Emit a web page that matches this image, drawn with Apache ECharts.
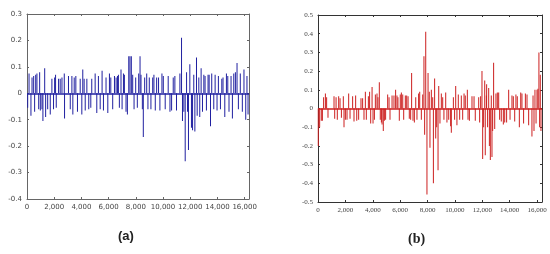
<!DOCTYPE html>
<html>
<head>
<meta charset="utf-8">
<title>stems</title>
<script src="https://cdn.jsdelivr.net/npm/echarts@6/dist/echarts.min.js"></script>
<style>
  html, body { margin: 0; padding: 0; background: #fff; }
  #chart { width: 550px; height: 254px; }
</style>
</head>
<body>
<div id="chart"></div>
<script>
// panel (a): sample position and value of each stem
var aX = [50,150,290,370,490,560,640,730,860,930,980,1100,1170,1300,1370,1520,1710,1830,1950,2030,
  2100,2150,2320,2440,2570,2740,2760,3050,3180,3300,3370,3470,3590,3710,3910,4030,4100,4200,4280,4400,
  4540,4690,4760,5010,5130,5250,5380,5520,5620,5810,5940,6060,6160,6300,6430,6550,6650,6720,6790,6910,
  6990,7090,7160,7280,7380,7480,7570,7670,7770,7870,7990,8110,8210,8310,8380,8480,8550,8650,8800,8890,
  8990,9110,9240,9330,9430,9530,9670,9770,9920,10020,10160,10380,10510,10630,10750,10870,10990,11240,11360,11430,
  11530,11630,11730,11800,11870,11970,12090,12170,12260,12340,12460,12510,12630,12700,12800,12900,13000,13090,13190,13310,
  13390,13490,13580,13730,13830,13970,14070,14220,14320,14410,14540,14660,14760,14850,15000,15100,15200,15320,15440,15540,
  15680,15830,15950,16080,16170,16250];
var aY = [-0.055,0.075,-0.085,0.06,0.065,-0.07,0.07,0.075,-0.06,0.08,-0.065,-0.06,-0.105,0.095,-0.09,-0.06,-0.08,0.055,-0.06,0.06,
  0.07,-0.055,0.055,0.055,0.06,0.075,-0.095,0.065,-0.06,0.065,-0.08,0.06,0.065,-0.07,0.055,-0.08,0.09,0.055,-0.065,0.055,
  -0.06,-0.055,0.055,0.075,-0.075,0.065,-0.06,0.085,-0.065,0.06,-0.075,0.075,0.06,-0.06,0.065,0.06,0.065,0.07,-0.055,0.09,
  -0.06,0.075,0.07,-0.07,-0.08,0.14,0.14,0.14,0.07,-0.06,0.06,-0.055,0.075,0.14,0.07,-0.06,-0.165,0.06,0.075,-0.06,
  0.06,-0.06,0.06,0.07,-0.065,0.06,0.06,-0.065,0.075,0.065,-0.06,0.065,-0.07,-0.065,0.06,0.065,-0.065,0.075,0.21,-0.105,
  -0.07,-0.257,0.08,-0.07,-0.215,0.11,-0.13,-0.14,0.07,-0.145,0.135,-0.085,0.06,-0.09,0.095,-0.07,0.07,0.065,-0.065,0.07,
  0.07,-0.125,0.075,-0.06,0.07,-0.065,0.065,-0.06,0.055,0.06,-0.09,0.075,0.065,-0.07,0.065,-0.095,0.075,0.08,0.115,-0.06,
  0.075,-0.07,0.09,-0.1,0.065,-0.08];

// panel (b)
var bX = [20,120,240,320,410,540,630,730,1170,1220,1320,1410,1510,1610,1710,1850,1900,2000,2120,2240,
  2340,2530,2630,2750,2830,2970,3140,3260,3360,3460,3530,3680,3770,3850,3950,4020,4120,4190,4310,4380,
  4480,4550,4630,4680,4770,4850,4940,5090,5190,5260,5410,5550,5670,5770,5840,5940,6010,6090,6190,6260,
  6380,6480,6580,6670,6770,6840,6940,7040,7140,7230,7350,7430,7550,7650,7740,7790,7870,7960,8040,8130,
  8180,8280,8380,8430,8520,8600,8670,8770,8820,8910,9010,9110,9200,9330,9420,9550,9690,9740,9890,9980,
  10060,10150,10250,10350,10470,10570,10670,10760,10910,10960,11060,11250,11400,11490,11740,11810,11880,11980,12030,12100,
  12180,12220,12300,12320,12390,12470,12520,12590,12660,12710,12760,12830,12910,13000,13100,13200,13270,13390,13540,13640,
  13780,13930,14030,14170,14270,14370,14460,14560,14710,14810,14900,15020,15150,15270,15390,15630,15710,15780,15850,15930,
  16000,16070,16140,16190,16240,16290];
var bY = [-0.2,-0.1,-0.065,-0.065,0.06,0.08,0.06,-0.05,0.065,-0.055,0.06,-0.06,0.065,0.055,-0.05,0.065,-0.1,-0.06,-0.06,0.08,
  -0.055,0.065,-0.07,0.07,-0.065,-0.06,0.055,0.055,-0.06,0.09,-0.06,0.065,0.09,-0.08,0.115,-0.08,-0.06,0.075,0.08,0.06,
  0.14,-0.06,-0.075,-0.085,-0.12,-0.065,-0.06,0.075,0.06,-0.06,0.07,0.07,0.1,0.07,0.06,-0.065,0.075,0.085,0.075,-0.06,
  0.07,0.07,0.065,-0.055,-0.06,0.19,-0.065,-0.075,0.06,-0.06,0.08,0.09,-0.06,0.075,0.28,-0.14,0.41,-0.46,0.19,0.09,
  -0.21,0.1,0.06,-0.4,0.16,-0.16,-0.1,-0.33,0.12,-0.08,0.08,0.06,-0.06,0.085,-0.075,-0.06,-0.095,-0.13,0.06,-0.06,
  0.12,-0.09,0.075,-0.06,0.07,-0.06,0.08,0.07,0.1,-0.06,-0.065,0.065,0.065,-0.065,0.06,-0.075,0.065,0.2,-0.27,-0.1,
  0.15,-0.25,0.07,0.13,-0.1,0.11,-0.2,-0.275,0.07,-0.26,-0.12,0.245,-0.11,0.08,0.085,0.085,-0.06,-0.07,-0.085,-0.075,
  -0.075,0.1,-0.06,0.07,0.065,-0.07,0.075,0.065,-0.1,0.085,0.08,-0.08,0.08,0.075,-0.09,-0.15,0.07,-0.12,0.1,-0.08,
  0.1,0.105,0.3,-0.1,0.18,-0.12];

var xTicks = [0, 2000, 4000, 6000, 8000, 10000, 12000, 14000, 16000];

function pairs(xs, ys) {
  var out = [];
  for (var i = 0; i < xs.length; i++) out.push([xs[i], ys[i]]);
  return out;
}
function thousands(v) {
  return v === 0 ? '0' : String(v).replace(/\B(?=(\d{3})+(?!\d))/g, ',');
}

var chart = echarts.init(document.getElementById('chart'), null, { renderer: 'canvas' });

function axesFor(gi, xmax, ymin, ymax, frame, font) {
  var lbl = { fontSize: 7, color: '#444', fontFamily: font };
  return {
    x: [
      { gridIndex: gi, type: 'value', min: 0, max: xmax, interval: 2000, position: 'bottom',
        axisLine: { onZero: false, lineStyle: { color: frame } },
        axisTick: { inside: true, length: 2, lineStyle: { color: frame } },
        axisLabel: Object.assign({ margin: 5, showMaxLabel: false, formatter: thousands }, lbl),
        splitLine: { show: false } },
      { gridIndex: gi, type: 'value', min: 0, max: xmax, interval: 2000, position: 'top',
        axisLine: { onZero: false, lineStyle: { color: frame } },
        axisTick: { inside: true, length: 2, lineStyle: { color: frame } },
        axisLabel: { show: false }, splitLine: { show: false } }
    ],
    y: [
      { gridIndex: gi, type: 'value', min: ymin, max: ymax, interval: 0.1, position: 'left',
        axisLine: { onZero: false, lineStyle: { color: frame } },
        axisTick: { inside: true, length: 2, lineStyle: { color: frame } },
        axisLabel: Object.assign({ margin: 5, formatter: function (v) { return String(Math.round(v * 10) / 10); } }, lbl),
        splitLine: { show: false } },
      { gridIndex: gi, type: 'value', min: ymin, max: ymax, interval: 0.1, position: 'right',
        axisLine: { onZero: false, lineStyle: { color: frame } },
        axisTick: { inside: true, length: 2, lineStyle: { color: frame } },
        axisLabel: { show: false }, splitLine: { show: false } }
    ]
  };
}

var A = axesFor(0, 16320, -0.4, 0.3, '#666', 'DejaVu Sans');
var B = axesFor(1, 16365, -0.5, 0.5, '#333', 'Liberation Serif');

function stems(xi, yi, data, color) {
  return {
    type: 'bar', xAxisIndex: xi, yAxisIndex: yi, data: data, barWidth: 1,
    itemStyle: { color: color }, animation: false, silent: true,
    markLine: {
      silent: true, symbol: 'none', label: { show: false },
      lineStyle: { color: color, width: 1.5, type: 'solid' },
      data: [{ yAxis: 0 }]
    }
  };
}

chart.setOption({
  backgroundColor: '#fff',
  animation: false,
  grid: [
    { left: 27, top: 14, width: 222, height: 185 },
    { left: 318, top: 15, width: 224, height: 187 }
  ],
  xAxis: A.x.concat(B.x),
  yAxis: A.y.concat(B.y),
  series: [
    stems(0, 0, pairs(aX, aY), '#2020a0'),
    stems(2, 2, pairs(bX, bY), '#cc1f1f')
  ],
  graphic: [
    { type: 'text', left: 118, top: 230,
      style: { text: '(a)', font: 'bold 13px "Liberation Sans"', fill: '#222' } },
    { type: 'text', left: 408, top: 232,
      style: { text: '(b)', font: 'bold 14px "Liberation Serif"', fill: '#222' } }
  ]
});
</script>
</body>
</html>
